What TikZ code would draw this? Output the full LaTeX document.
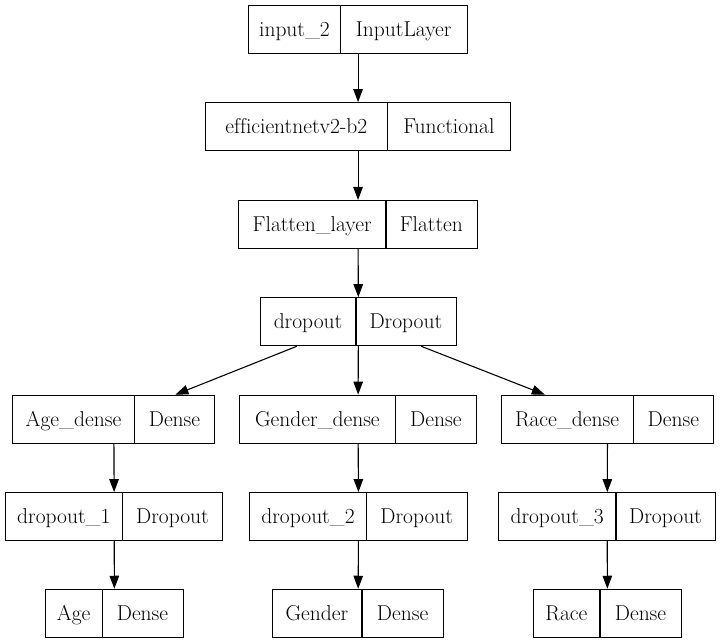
\documentclass[tikz,border=0pt]{standalone}
\usepackage{fontspec}
\usetikzlibrary{arrows.meta}
\tikzset{
  recbox/.style={draw, line width=1.1pt, inner sep=0pt, minimum height=48pt},
  txt/.style={inner sep=0pt, font=\fontsize{21.5}{25}\selectfont, text height=17pt, text depth=3pt},
  arr/.style={line width=1.1pt, -{Triangle[length=13pt,width=9.5pt]}},
}
\newcommand\layerbox[7]{%
  \node[recbox, minimum width={(#5-#3)*1pt}, anchor=west] (#1) at (#3,#2) {};
  \node[txt] (#1-l) at ({(#3+#4)/2},#2) {#6};
  \node[txt] (#1-r) at ({(#4+#5)/2},#2) {#7};
  \draw[line width=1.1pt] (#4,#2-24) -- (#4,#2+24);
}
\begin{document}
\begin{tikzpicture}[x=1pt,y=-1pt]
\useasboundingbox (0,0) rectangle (721,644);
\layerbox{in}{29.7}{248.3}{340.7}{466.7}{input\_2}{InputLayer}
\layerbox{eff}{126.7}{205}{387.7}{510}{ef\kern0ptf\kern0pticientnetv2-b2}{Functional}
\layerbox{flat}{224.5}{238.3}{386}{476.7}{Flatten\_layer}{Flatten}
\layerbox{drop}{321.7}{260}{356}{455.7}{dropout}{Dropout}
\layerbox{aged}{419.2}{12.3}{134.7}{214.3}{Age\_dense}{Dense}
\layerbox{gend}{419.2}{239}{395.7}{476}{Gender\_dense}{Dense}
\layerbox{raced}{419.2}{500.7}{633.3}{713.3}{Race\_dense}{Dense}
\layerbox{da}{516.7}{5}{122.7}{222.3}{dropout\_1}{Dropout}
\layerbox{dg}{516.7}{249.3}{366.7}{466.7}{dropout\_2}{Dropout}
\layerbox{dr}{516.7}{498.3}{616}{715}{dropout\_3}{Dropout}
\layerbox{age}{613.3}{45}{102.3}{182.7}{Age}{Dense}
\layerbox{gender}{613.3}{271.7}{362}{443.3}{Gender}{Dense}
\layerbox{race}{613.3}{532.7}{600}{681}{Race}{Dense}
\draw[arr] (in) -- (eff);
\draw[arr] (eff) -- (flat);
\draw[arr] (flat) -- (drop);
\draw[arr] (drop) -- (aged);
\draw[arr] (drop) -- (gend);
\draw[arr] (drop) -- (raced);
\draw[arr] (aged) -- (da);
\draw[arr] (gend) -- (dg);
\draw[arr] (raced) -- (dr);
\draw[arr] (da) -- (age);
\draw[arr] (dg) -- (gender);
\draw[arr] (dr) -- (race);
\end{tikzpicture}
\end{document}
